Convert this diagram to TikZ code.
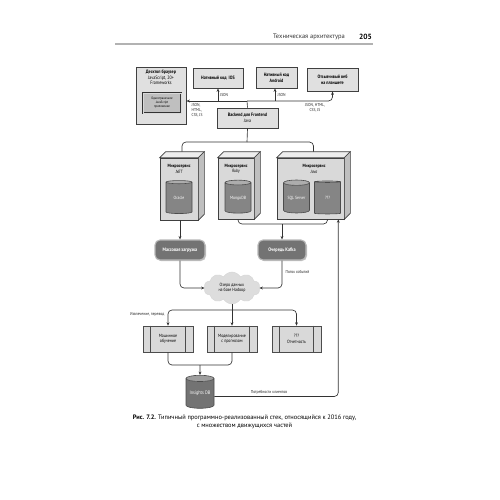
\documentclass[tikz,border=0pt]{standalone}
\usepackage{fontspec}
\setmainfont[FakeStretch=0.85]{PT Sans}
\newfontfamily\capfont{PT Sans}
\usetikzlibrary{shapes.geometric,shapes.symbols,shadows,arrows.meta,calc}
\tikzset{
  lbl/.style={font=\fontsize{4.3}{5}\selectfont, inner sep=0.5pt, text=black!85},
  topbox/.style={draw=black!75, fill=gray!24, line width=0.9pt, inner sep=1pt, align=center,
     font=\fontsize{4.8}{5.8}\selectfont, drop shadow={shadow xshift=1.2pt, shadow yshift=-1.2pt, opacity=1, fill=gray!55}},
  front/.style={draw=black!75, fill=gray!30, line width=0.6pt, inner sep=0pt},
  db/.style={cylinder, shape border rotate=90, aspect=0.3, cylinder uses custom fill,
     cylinder body fill=black!48, cylinder end fill=black!32, draw=black!70, line width=0.6pt,
     minimum width=26pt, minimum height=33pt, inner sep=0pt, text=white,
     font=\fontsize{4.5}{5}\selectfont},
  darkbox/.style={rounded corners=5pt, fill=black!55, draw=black!28, line width=1.1pt, text=white,
     font=\bfseries\fontsize{5}{6}\selectfont, inner sep=0pt,
     drop shadow={shadow xshift=1pt, shadow yshift=-1pt, opacity=1, fill=gray!45}},
  procbox/.style={draw=black!70, fill=gray!30, line width=0.6pt, align=center, inner sep=0pt,
     font=\fontsize{4.6}{5.6}\selectfont,
     drop shadow={shadow xshift=1pt, shadow yshift=-1pt, opacity=1, fill=gray!45}},
  arr/.style={-{Stealth[length=3.4pt,width=2.8pt]}, line width=0.65pt, draw=black!80},
  ln/.style={line width=0.65pt, draw=black!80},
}
\newcommand\mkcube[1]{%
  \fill[gray!14, draw=black!75, line width=0.6pt] (#1.north west) -- ++(6,-6) -- ($(#1.north east)+(6,-6)$) -- (#1.north east) -- cycle;
  \fill[gray!50, draw=black!75, line width=0.6pt] (#1.north east) -- ++(6,-6) -- ($(#1.south east)+(6,-6)$) -- (#1.south east) -- cycle;
}
\newcommand\mkproc[1]{%
  \draw[black!70, line width=0.6pt] ($(#1.north west)+(8,0)$) -- ($(#1.south west)+(8,0)$);
  \draw[black!70, line width=0.6pt] ($(#1.north east)+(-8,0)$) -- ($(#1.south east)+(-8,0)$);
}
\begin{document}
\begin{tikzpicture}[x=1pt,y=-1pt]
\useasboundingbox (0,0) rectangle (500,500);
\fill[white] (0,0) rectangle (500,500);

% header
\node[anchor=east, font=\capfont\fontsize{6.5}{7}\selectfont, text=black!80, inner sep=0] (hdr) at (345,37) {Техническая архитектура};
\node[anchor=east, font=\capfont\bfseries\fontsize{7.5}{8}\selectfont, inner sep=0] (pg) at (372,37) {205};
\draw[gray!60, line width=1.2pt] (115,44) -- (373,44);

% top row
\node[topbox, minimum width=50pt, minimum height=57pt] (desk) at (161,95.5) {};
\node[align=center, font=\fontsize{4.8}{5.6}\selectfont, inner sep=0, anchor=north] (desktxt) at (161,70)
   {\textbf{Десктоп браузер}\\JavaScript, 20+\\Frameworks};
\node[draw=black!80, fill=gray!50, line width=0.9pt, minimum width=38pt, minimum height=20pt,
      align=center, font=\fontsize{3.4}{4.1}\selectfont, inner sep=0, double=gray!30, double distance=0.5pt] (spa) at (162,103)
   {Одностраничное\\JavaScript\\приложение};
\node[topbox, minimum width=50pt, minimum height=20pt] (ios) at (218,78) {\textbf{Нативный код\ \ IOS}};
\node[topbox, minimum width=41pt, minimum height=21pt] (andr) at (276.5,77.5) {\textbf{Нативный код}\\\textbf{Android}};
\node[topbox, minimum width=51pt, minimum height=23pt] (resp) at (332.5,79.5) {\textbf{Отзывчивый веб}\\\textbf{на планшете}};
\node[topbox, minimum width=61pt, minimum height=20pt] (bff) at (247.5,118) {\textbf{Backend для Frontend}\\Java};

\coordinate (hub) at (247,101);
\draw[ln] (bff.north) -- (hub);
\draw[arr] (hub) -- (desk.east |- hub);
\draw[arr, rounded corners=4pt] (hub) -| (resp.south);
\draw[arr] (ios.south |- hub) -- (ios.south);
\draw[arr] (275,101) coordinate (ha) -- (ha |- andr.south);
\node[lbl, anchor=west] (j1) at (219.5,95) {JSON};
\node[lbl, anchor=west] (j2) at (277,95) {JSON};
\node[lbl, anchor=north west, align=left] (j3) at (191,103) {JSON,\\HTML,\\CSS, JS};
\node[lbl, anchor=north, align=center] (j4) at (315,103) {JSON, HTML,\\CSS, JS};

% microservices
\node[front, minimum width=38pt, minimum height=62pt] (net) at (179,189) {};
\node[front, minimum width=36pt, minimum height=61pt] (ruby) at (236,188.5) {};
\node[front, minimum width=67pt, minimum height=61pt] (java) at (310.5,188.5) {};
\mkcube{net}\mkcube{ruby}\mkcube{java}
\node[align=center, font=\fontsize{4.6}{5.6}\selectfont, inner sep=0] (nett) at (179,169) {\textbf{Микросервис}\\\textit{.NET}};
\node[align=center, font=\fontsize{4.6}{5.6}\selectfont, inner sep=0] (rubyt) at (236,169) {\textbf{Микросервис}\\\textit{Ruby}};
\node[align=center, font=\fontsize{4.6}{5.6}\selectfont, inner sep=0] (javat) at (314,169) {\textbf{Микросервис}\\\textit{Java}};
\node[db] (oracle) at (179,198) {Oracle};
\node[db] (mongo) at (238,198) {MongoDB};
\node[db] (sql) at (296.5,198) {SQL Server};
\node[db] (qqq) at (327.5,198) {???};

\coordinate (br) at (247,142);
\draw[ln] (bff.south) -- (br);
\draw[ln, rounded corners=4pt] ($(net.north)+(3,-6)$) |- (br) -| ($(java.north)+(3,-6)$);

% second row
\node[darkbox, minimum width=50pt, minimum height=20pt] (mass) at (180,250) {Массовая загрузка};
\node[darkbox, minimum width=48pt, minimum height=20pt] (kafka) at (282,250) {Очередь Kafka};
\draw[arr] (net.south -| mass.north) -- (mass.north);
\coordinate (kj) at (282,224);
\draw[ln, rounded corners=4pt] (mongo.south |- ruby.south) |- (kj) -| (qqq.south |- java.south);
\draw[arr] (kj) -- (kafka.north);

% cloud
\node[cloud, cloud puffs=10, cloud puff arc=120, aspect=1.8, fill=gray!27, draw=gray!32,
      minimum width=56pt, minimum height=32pt, inner sep=0pt, align=center,
      font=\fontsize{4.6}{5.6}\selectfont] (lake) at (232,288) {Озеро данных\\на базе Hadoop};
\draw[arr, rounded corners=4pt] (mass.south) |- (lake.west);
\draw[arr, rounded corners=4pt] (kafka.south) |- (lake.east);
\node[lbl, anchor=west] (ev) at (285,272) {Поток событий};

% processing row
\node[procbox, minimum width=50pt, minimum height=26pt] (ml) at (168,339) {Машинное\\обучение};
\node[procbox, minimum width=50pt, minimum height=26pt] (model) at (232,339) {Моделирование\\с прогнозом};
\node[procbox, minimum width=49pt, minimum height=26pt] (rep) at (296.5,339) {???\\Отчетность};
\mkproc{ml}\mkproc{model}\mkproc{rep}
\coordinate (sp) at (232,310);
\draw[arr, rounded corners=4pt] (sp) -| (ml.north);
\draw[arr, rounded corners=4pt] (sp) -| (rep.north);
\draw[arr] (lake.south) -- (model.north);
\node[lbl, anchor=east] (etl) at (165,314.5) {Извлечение, перевод};

% insights
\node[db, cylinder body fill=black!55, cylinder end fill=black!38, minimum width=28pt, minimum height=33pt,
      font=\fontsize{5}{6}\selectfont] (ins) at (200,393.5) {Insights DB};
\coordinate (ij) at (200,365);
\draw[ln, rounded corners=4pt] (ml.south) |- (ij) -| (model.south);
\draw[arr] (ij) -- (ins.north);
\draw[arr, rounded corners=4pt] ($(ins.east)+(0,3)$) -| ($(java.south east)+(-6,0)$);
\node[lbl, anchor=south] (need) at (269,395) {Потребности клиентов};

% caption
\node[font=\capfont\fontsize{6.4}{8}\selectfont, inner sep=0, align=center] (cap) at (244.5,422)
  {\textbf{Рис. 7.2.} Типичный программно-реализованный стек, относящийся к 2016 году,\\с множеством движущихся частей};
\end{tikzpicture}
\end{document}
